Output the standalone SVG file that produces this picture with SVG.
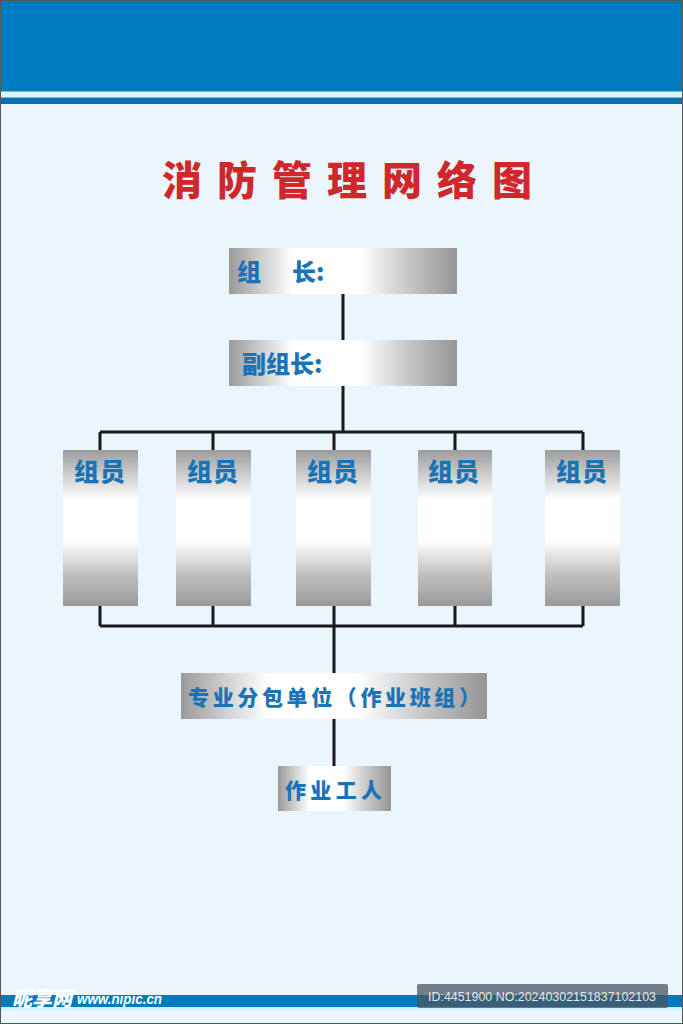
<svg xmlns="http://www.w3.org/2000/svg" width="683" height="1024" viewBox="0 0 683 1024">
<defs>
<linearGradient id="gh" x1="0" y1="0" x2="1" y2="0">
<stop offset="0" stop-color="#9a9a9a"/>
<stop offset="0.12" stop-color="#c6c6c6"/>
<stop offset="0.28" stop-color="#ffffff"/>
<stop offset="0.58" stop-color="#ffffff"/>
<stop offset="0.8" stop-color="#c4c4c4"/>
<stop offset="1" stop-color="#959595"/>
</linearGradient>
<linearGradient id="gv" x1="0" y1="0" x2="0" y2="1">
<stop offset="0" stop-color="#9c9c9c"/>
<stop offset="0.32" stop-color="#ffffff"/>
<stop offset="0.58" stop-color="#ffffff"/>
<stop offset="0.8" stop-color="#c0c0c0"/>
<stop offset="1" stop-color="#9a9a9a"/>
</linearGradient>
</defs>
<style>
.lbl{font-family:"Noto Sans CJK SC","Noto Sans",sans-serif;font-weight:900;fill:#1a73b6}
.ln{stroke:#1a1a1a;stroke-width:3;fill:none}
</style>
<rect x="0" y="0" width="683" height="1024" fill="#eaf5fc"/>
<rect x="0" y="0" width="683" height="92" fill="#007bc1"/>
<rect x="0" y="91" width="683" height="7" fill="#d8f8ff" stroke="#2a79a8" stroke-width="1"/>
<rect x="0" y="98" width="683" height="6" fill="#0a72b0"/>
<rect x="0" y="995" width="683" height="12" fill="#007bc1"/>
<rect x="0" y="1007" width="683" height="3" fill="#c8f4ff"/>
<rect x="0.5" y="0.5" width="682" height="1023" fill="none" stroke="#555" stroke-width="1"/>
<text x="162" y="195" font-family="Noto Sans CJK SC, sans-serif" font-weight="900" font-size="40" letter-spacing="15" fill="#d0282a">消防管理网络图</text>
<g id="connectors">
<path class="ln" d="M343 294V340M343 386V432M100 432H583M100 432V450M213 432V450M334 432V450M455 432V450M583 432V450"/>
<path class="ln" d="M100 606V626M213 606V626M334 606V626M455 606V626M583 606V626M100 626H583M334 626V673M334 719V766"/>
</g>
<g id="leader">
<rect x="229" y="248" width="228" height="46" fill="url(#gh)"/>
<text class="lbl" x="237" y="281" font-size="24">组</text>
<text class="lbl" x="292" y="281" font-size="24">长:</text>
</g>
<g id="deputy">
<rect x="229" y="340" width="228" height="46" fill="url(#gh)"/>
<text class="lbl" x="242" y="373" font-size="24">副组长:</text>
</g>
<g id="m1"><rect x="63" y="450" width="75" height="156" fill="url(#gv)"/><text class="lbl" x="100" y="481" font-size="25" text-anchor="middle" letter-spacing="1">组员</text></g>
<g id="m2"><rect x="176" y="450" width="75" height="156" fill="url(#gv)"/><text class="lbl" x="213" y="481" font-size="25" text-anchor="middle" letter-spacing="1">组员</text></g>
<g id="m3"><rect x="296" y="450" width="75" height="156" fill="url(#gv)"/><text class="lbl" x="333" y="481" font-size="25" text-anchor="middle" letter-spacing="1">组员</text></g>
<g id="m4"><rect x="418" y="450" width="74" height="156" fill="url(#gv)"/><text class="lbl" x="454" y="481" font-size="25" text-anchor="middle" letter-spacing="1">组员</text></g>
<g id="m5"><rect x="545" y="450" width="75" height="156" fill="url(#gv)"/><text class="lbl" x="582" y="481" font-size="25" text-anchor="middle" letter-spacing="1">组员</text></g>
<g id="subcontract">
<rect x="181" y="673" width="306" height="46" fill="url(#gh)"/>
<text class="lbl" x="188" y="705" font-size="21" textLength="292" lengthAdjust="spacing">专业分包单位（作业班组）</text>
</g>
<g id="workers">
<rect x="278" y="766" width="113" height="45" fill="url(#gh)"/>
<text class="lbl" x="285" y="798" font-size="21" textLength="97" lengthAdjust="spacing">作业工人</text>
</g>
<text x="12" y="1006" font-family="Noto Sans CJK SC, sans-serif" font-weight="900" font-style="italic" font-size="21" fill="#ffffff" textLength="60" lengthAdjust="spacingAndGlyphs">昵享网</text>
<text x="77" y="1004" font-family="Liberation Sans, sans-serif" font-style="italic" font-weight="bold" font-size="15" fill="#ffffff" textLength="85" lengthAdjust="spacingAndGlyphs">www.nipic.cn</text>
<rect x="417" y="984" width="251" height="24" rx="2" fill="#4a5560" fill-opacity="0.75"/>
<text x="542" y="1001" text-anchor="middle" font-family="Liberation Sans Narrow, Liberation Sans, sans-serif" font-size="13" fill="#e8e8e8" textLength="228" lengthAdjust="spacingAndGlyphs">ID:4451900 NO:20240302151837102103</text>
</svg>
